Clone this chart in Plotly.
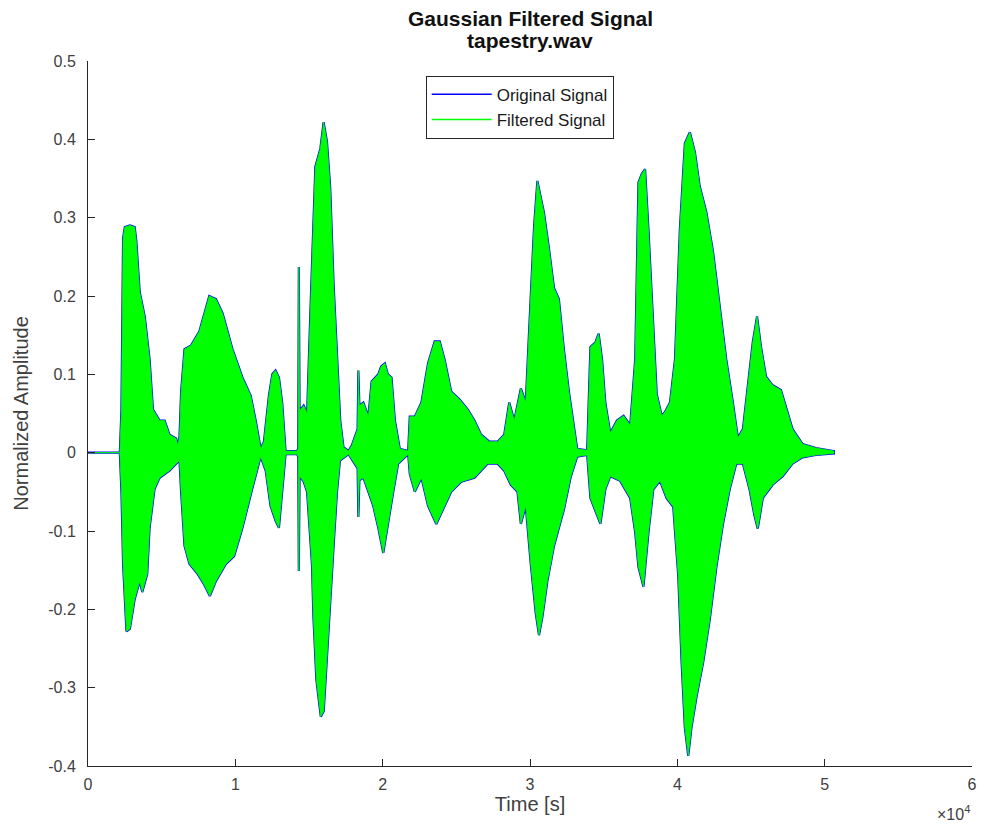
import plotly.graph_objects as go

# Envelope of the speech waveform (sample index, normalized amplitude)
upper_t = [0, 2160, 2270, 2380, 2500, 2850, 3170, 3280, 3510, 3850, 4180, 4410, 4860, 5200,
           5530, 5980, 6100, 6210, 6320, 6550, 7000, 7560, 8230, 8680, 9130, 9810, 10480,
           11040, 11380, 11720, 11940, 12280, 12510, 12730, 12960, 13180, 13410, 14190,
           14270, 14310, 14360, 14420, 14640, 14870, 15090, 15430, 15770, 15990, 16220,
           16440, 16670, 16890, 17120, 17340, 17680, 17900, 18300, 18350, 18420, 18690,
           19030, 19250, 19700, 19900, 20150, 20350, 20600, 20830, 21160, 21730, 21840,
           22180, 22630, 23080, 23530, 23870, 24200, 24650, 25220, 25780, 26230, 26680,
           27240, 27800, 28250, 28590, 28930, 29380, 29710, 30050, 30280, 30500, 30730,
           30950, 31290, 31630, 31960, 32300, 32640, 32980, 33200, 33880, 34100, 34440,
           34660, 34890, 35110, 35450, 35900, 36350, 36800, 37140, 37360, 37590, 37810,
           38040, 38260, 38600, 38940, 39160, 39500, 39840, 40170, 40510, 40850, 41190,
           41520, 41970, 42420, 42870, 43320, 43770, 44110, 44450, 44900, 45120, 45410,
           45680, 46020, 46470, 47030, 47370, 47820, 48500, 49400, 50630]
upper_a = [0.0, 0.0, 0.055, 0.274, 0.288, 0.290, 0.288, 0.270, 0.205, 0.174, 0.119, 0.055,
           0.041, 0.041, 0.023, 0.018, 0.009, 0.020, 0.078, 0.132, 0.137, 0.155, 0.200,
           0.196, 0.178, 0.132, 0.096, 0.073, 0.041, 0.005, 0.014, 0.073, 0.100, 0.105,
           0.096, 0.064, 0.002, 0.002, 0.005, 0.237, 0.050, 0.055, 0.060, 0.050, 0.178,
           0.365, 0.388, 0.422, 0.397, 0.338, 0.215, 0.132, 0.041, 0.007, 0.002, 0.009,
           0.030, 0.105, 0.060, 0.064, 0.046, 0.091, 0.100, 0.110, 0.114, 0.100, 0.096,
           0.041, 0.005, 0.002, 0.046, 0.046, 0.064, 0.114, 0.142, 0.142, 0.119, 0.078,
           0.068, 0.055, 0.041, 0.023, 0.014, 0.014, 0.023, 0.064, 0.041, 0.082, 0.064,
           0.200, 0.290, 0.347, 0.324, 0.306, 0.260, 0.210, 0.196, 0.132, 0.078, 0.037,
           0.005, 0.003, 0.135, 0.141, 0.152, 0.119, 0.064, 0.025, 0.041, 0.047, 0.035,
           0.119, 0.345, 0.356, 0.362, 0.285, 0.200, 0.075, 0.047, 0.052, 0.064, 0.119,
           0.285, 0.395, 0.409, 0.384, 0.340, 0.307, 0.257, 0.190, 0.119, 0.064, 0.019,
           0.030, 0.102, 0.141, 0.174, 0.135, 0.097, 0.086, 0.080, 0.058, 0.030, 0.011,
           0.006, 0.002]

lower_t = [0, 2160, 2270, 2380, 2610, 2840, 3170, 3510, 3680, 4020, 4180, 4520, 4860, 5530,
           5980, 6210, 6320, 6550, 6890, 7450, 7900, 8270, 8680, 9360, 9920, 10480, 11150,
           11720, 12060, 12390, 12730, 12960, 13180, 13410, 14190, 14270, 14310, 14360,
           14640, 14870, 15200, 15300, 15500, 15800, 16000, 16300, 16700, 16900, 17100,
           17680, 17900, 18300, 18350, 18420, 18690, 19030, 19360, 19700, 20040, 20380,
           20720, 21050, 21730, 21840, 22180, 22630, 23080, 23640, 24090, 24650, 25330,
           26230, 27120, 27800, 28250, 28700, 29150, 29380, 29710, 30050, 30390, 30610,
           30840, 31180, 31630, 31960, 32300, 32750, 33200, 33880, 34100, 34440, 34780,
           35110, 35450, 36120, 36800, 37140, 37360, 37700, 38040, 38370, 38820, 39270,
           39720, 40060, 40290, 40510, 40740, 40960, 41300, 41750, 42200, 42650, 43100,
           43550, 44000, 44450, 44900, 45230, 45460, 45800, 46470, 47150, 47820, 48500,
           49400, 50630]
lower_a = [0.0, 0.0, -0.050, -0.142, -0.228, -0.225, -0.187, -0.164, -0.178, -0.155, -0.096,
           -0.046, -0.032, -0.023, -0.014, -0.010, -0.050, -0.119, -0.142, -0.155, -0.169,
           -0.183, -0.164, -0.142, -0.132, -0.096, -0.046, -0.005, -0.023, -0.068, -0.087,
           -0.096, -0.055, -0.002, -0.002, -0.005, -0.151, -0.030, -0.037, -0.050, -0.142,
           -0.210, -0.290, -0.337, -0.330, -0.240, -0.110, -0.050, -0.010, -0.002, -0.009,
           -0.020, -0.082, -0.035, -0.032, -0.050, -0.068, -0.096, -0.128, -0.087, -0.050,
           -0.014, -0.002, -0.027, -0.050, -0.032, -0.068, -0.091, -0.073, -0.050, -0.037,
           -0.032, -0.014, -0.014, -0.023, -0.041, -0.050, -0.091, -0.068, -0.142, -0.205,
           -0.233, -0.210, -0.164, -0.119, -0.096, -0.073, -0.032, -0.005, -0.003, -0.058,
           -0.074, -0.091, -0.047, -0.030, -0.036, -0.058, -0.102, -0.146, -0.171, -0.102,
           -0.047, -0.036, -0.058, -0.069, -0.157, -0.268, -0.351, -0.387, -0.351, -0.312,
           -0.268, -0.213, -0.146, -0.091, -0.047, -0.014, -0.014, -0.047, -0.080, -0.097,
           -0.058, -0.041, -0.030, -0.014, -0.006, -0.003, -0.001]

x_ticks = [0, 10000, 20000, 30000, 40000, 50000, 60000]
x_tick_text = ["0", "1", "2", "3", "4", "5", "6"]
y_ticks = [-0.4, -0.3, -0.2, -0.1, 0, 0.1, 0.2, 0.3, 0.4, 0.5]
y_tick_text = ["-0.4", "-0.3", "-0.2", "-0.1", "0", "0.1", "0.2", "0.3", "0.4", "0.5"]

title_lines = ["Gaussian Filtered Signal", "tapestry.wav"]

# Closed outline: upper envelope left to right, lower envelope right to left
poly_x = upper_t + lower_t[::-1]
poly_y = upper_a + lower_a[::-1]

BLUE = "#0000ff"
GREEN = "#00ff00"
FONT = "Liberation Sans, Arial, Helvetica, sans-serif"
AXIS = "#262626"
LABEL = "#404040"

fig = go.Figure()
fig.add_trace(go.Scatter(x=poly_x, y=poly_y, mode="lines", fill="toself",
                         fillcolor=BLUE, line=dict(color=BLUE, width=2.2),
                         showlegend=False, hoverinfo="skip"))
fig.add_trace(go.Scatter(x=poly_x, y=poly_y, mode="lines", fill="toself",
                         fillcolor=GREEN, line=dict(color=GREEN, width=0.8),
                         showlegend=False, hoverinfo="skip"))
# legend entries drawn as plain line samples
fig.add_trace(go.Scatter(x=[None], y=[None], mode="lines", name="Original Signal",
                         line=dict(color=BLUE, width=1.5)))
fig.add_trace(go.Scatter(x=[None], y=[None], mode="lines", name="Filtered Signal",
                         line=dict(color=GREEN, width=1.5)))

fig.update_layout(
    width=986, height=828,
    margin=dict(l=88, r=9, t=61, b=62),
    paper_bgcolor="white", plot_bgcolor="white",
    font=dict(family=FONT, color=AXIS, size=16),
    legend=dict(x=0.382, y=0.979, xanchor="left", yanchor="top",
                bgcolor="white", bordercolor="#262626", borderwidth=1,
                font=dict(family=FONT, size=17, color="#1a1a1a"),
                tracegroupgap=0, itemwidth=60),
    showlegend=True,
)
fig.update_xaxes(range=[0, 60000], tickvals=x_ticks, ticktext=x_tick_text,
                 ticks="inside", ticklen=7, tickcolor=AXIS, showline=True,
                 linecolor=AXIS, linewidth=1, showgrid=False, zeroline=False,
                 ticklabelstandoff=4,
                 title=dict(text="Time [s]", font=dict(size=20, color=LABEL), standoff=4),
                 tickfont=dict(size=16, color=LABEL))
fig.update_yaxes(range=[-0.4, 0.5], tickvals=y_ticks, ticktext=y_tick_text,
                 ticks="inside", ticklen=7, tickcolor=AXIS, showline=True,
                 linecolor=AXIS, linewidth=1, showgrid=False, zeroline=False,
                 ticklabelstandoff=8,
                 title=dict(text="Normalized Amplitude", font=dict(size=20, color=LABEL),
                            standoff=14),
                 tickfont=dict(size=16, color=LABEL))

# two-line bold title above the axes
for line_text, shift in zip(title_lines, [43, 21]):
    fig.add_annotation(text="<b>%s</b>" % line_text, xref="paper", yref="paper",
                       x=0.5, y=1.0, xanchor="center", yanchor="middle", yshift=shift,
                       showarrow=False, font=dict(family=FONT, size=21, color="#111111"))

fig.add_annotation(text="×10<sup>4</sup>", xref="paper", yref="paper", x=1.0, y=0,
                   xanchor="right", yanchor="top", yshift=-35, showarrow=False,
                   font=dict(size=16, color=LABEL, family=FONT))

fig.write_html("out.html")
